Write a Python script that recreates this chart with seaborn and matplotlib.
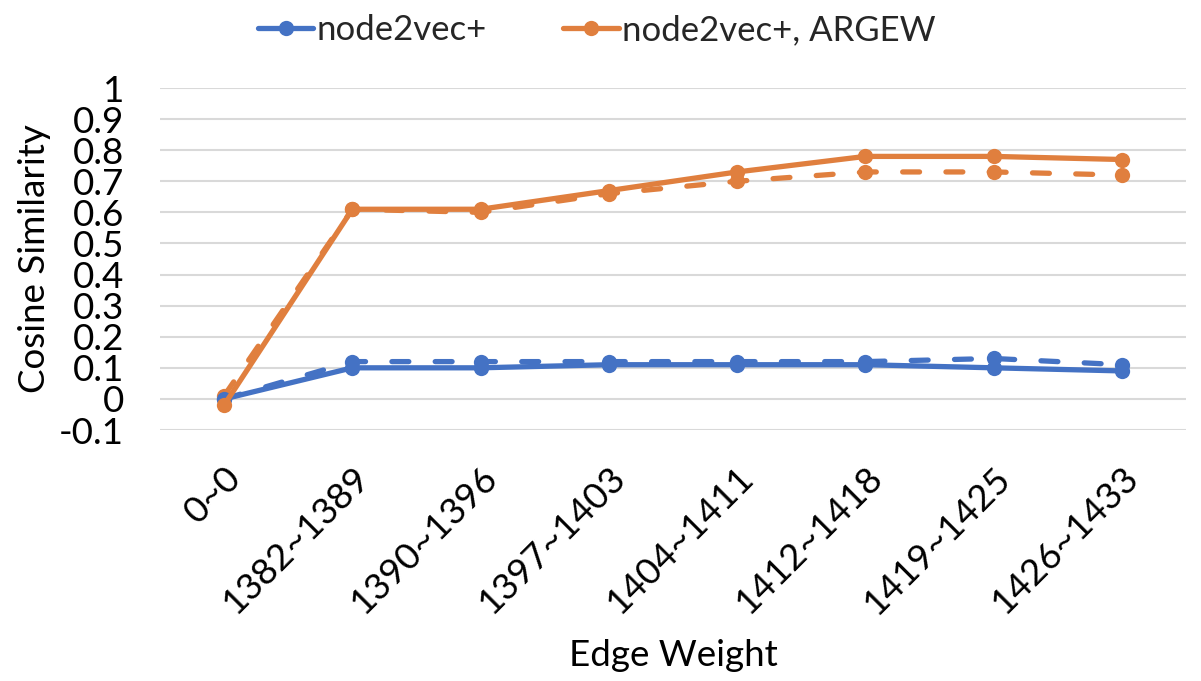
import matplotlib
matplotlib.use("Agg")
import matplotlib.pyplot as plt
import seaborn as sns
import pandas as pd

categories = ["0~0", "1382~1389", "1390~1396", "1397~1403", "1404~1411",
              "1412~1418", "1419~1425", "1426~1433"]
n2v_solid = [0.00, 0.10, 0.10, 0.11, 0.11, 0.11, 0.10, 0.09]
n2v_dashed = [0.00, 0.12, 0.12, 0.12, 0.12, 0.12, 0.13, 0.11]
argew_solid = [-0.02, 0.61, 0.61, 0.67, 0.73, 0.78, 0.78, 0.77]
argew_dashed = [0.01, 0.61, 0.60, 0.66, 0.70, 0.73, 0.73, 0.72]
yticks = [-0.1, 0, 0.1, 0.2, 0.3, 0.4, 0.5, 0.6, 0.7, 0.8, 0.9, 1]
ytick_labels = ["-0.1", "0", "0.1", "0.2", "0.3", "0.4", "0.5", "0.6", "0.7", "0.8", "0.9", "1"]

sns.set_theme(style="white")
plt.rcParams['font.family'] = ['Lato', 'DejaVu Sans']

BLUE = "#4472C4"
ORANGE = "#E07F3E"

fig = plt.figure(figsize=(12.01, 6.81), dpi=100)
ax = fig.add_axes([160/1201, 1-430/681, (1186-160)/1201, (430-88)/681])

x = list(range(len(categories)))
lw = 3.8
ms = 11
FS = 26.5

def draw(vals, color, dashed, label):
    df = pd.DataFrame({"x": x, "y": vals})
    kw = dict(data=df, x="x", y="y", ax=ax, color=color, linewidth=lw,
              marker="o", markersize=ms, markeredgewidth=0, legend=False)
    sns.lineplot(**kw)
    line = ax.lines[-1]
    if dashed:
        line.set_dashes((3.2, 5.0))
        line.set_dash_capstyle("round")
    else:
        line.set_solid_capstyle("round")
    if label:
        line.set_label(label)
    return line

draw(n2v_dashed, BLUE, True, None)
draw(argew_dashed, ORANGE, True, None)
h1 = draw(n2v_solid, BLUE, False, "node2vec+")
h2 = draw(argew_solid, ORANGE, False, "node2vec+, ARGEW")

ax.set_xlim(-0.5, len(categories) - 0.5)
ax.set_ylim(-0.1, 1.0)
ax.set_yticks(yticks)
ax.set_yticklabels(ytick_labels)
ax.set_xticks(x)
ax.set_xticklabels(categories, rotation=45, ha="right", va="top", rotation_mode="anchor")
ax.tick_params(axis="both", length=0, labelsize=FS, colors="black")
ax.tick_params(axis="x", pad=22)
ax.tick_params(axis="y", pad=26)
ax.grid(axis="y", color="#d9d9d9", linewidth=1.5)
ax.set_axisbelow(True)
for s in ax.spines.values():
    s.set_visible(False)

ax.set_xlabel("Edge Weight", fontsize=FS, color="black", labelpad=14)
ax.set_ylabel("Cosine Similarity", fontsize=FS, color="black", labelpad=6)

fig.legend(handles=[h1, h2], loc="upper center", bbox_to_anchor=(0.497, 1.025),
           ncol=2, frameon=False, fontsize=25, handlelength=1.6,
           handletextpad=0.1, columnspacing=2.2)

fig.savefig("out.png", dpi=100)
